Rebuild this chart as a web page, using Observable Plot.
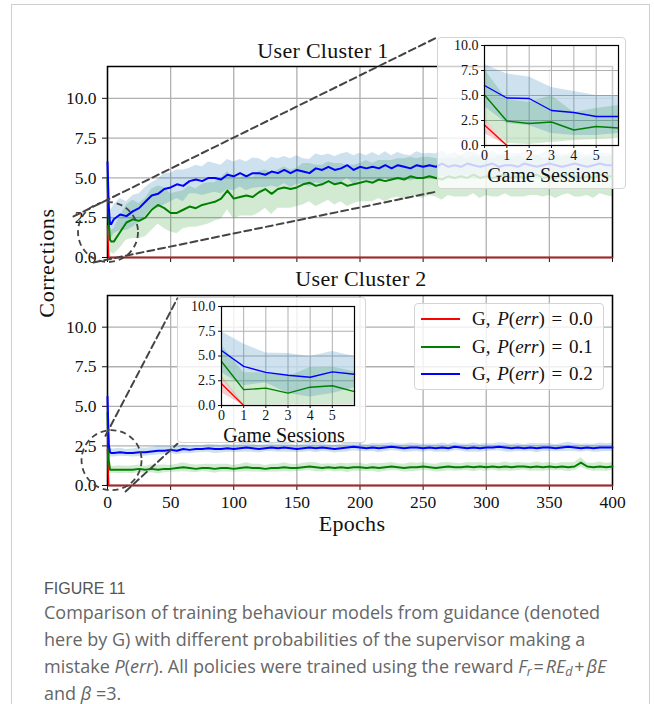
<!DOCTYPE html>
<html>
<head>
<meta charset="utf-8">
<script src="https://cdn.jsdelivr.net/npm/d3@7"></script>
<script src="https://cdn.jsdelivr.net/npm/@observablehq/plot@0.6"></script>
<style>
  html, body { margin: 0; padding: 0; background: #fff; }
  #wrap { position: relative; width: 654px; height: 704px; overflow: hidden; font-family: "Liberation Serif", serif; color: #111; }
  .frame { position: absolute; left: 11px; top: 4px; width: 639px; height: 760px; border: 1px solid #cfcfcf; box-sizing: border-box; }
  .box { position: absolute; background: rgba(255,255,255,0.8); border: 1.5px solid #d4d4d4; border-radius: 4px; box-sizing: border-box; }
  .lbl { position: absolute; white-space: nowrap; font-family: "Liberation Serif", serif; color: #111; line-height: 1; }
  .leg-item { position: absolute; left: 0; width: 190px; height: 20px; }
  .leg-line { position: absolute; left: 6px; width: 39px; height: 2px; top: 9px; }
  .leg-text { position: absolute; left: 57px; top: 0px; font-size: 19px; line-height: 19px; white-space: nowrap; word-spacing: 2px; }
  .cap-head { position: absolute; left: 44px; top: 581px; font-family: "Liberation Sans Narrow", "Liberation Sans", sans-serif; font-size: 16px; line-height: 16px; color: #555; }
  .cap { position: absolute; left: 44px; top: 599px; width: 610px; font-family: "Open Sans", sans-serif; font-size: 18px; line-height: 27px; color: #666; white-space: nowrap; }
  .cap sub { font-size: 0.7em; line-height: 0; vertical-align: -0.25em; }
</style>
</head>
<body>
<div id="wrap"></div>
<script>
// ---------------- data ----------------
const EPOCHS = [0, 1, 2, 3].concat(d3.range(5, 401, 5)); // 84 epochs
const X_TICKS = [0, 50, 100, 150, 200, 250, 300, 350, 400];
const Y_TICKS = [0, 2.5, 5, 7.5, 10];
const SESSIONS = [0, 1, 2, 3, 4, 5, 6];
const S_TICKS = [0, 1, 2, 3, 4, 5];
const LEGEND_P = ["0.0", "0.1", "0.2"];
const SERIES_KEYS = ["red", "green", "blue"];
const LINE_COLORS = {red: "#ff0000", green: "#008000", blue: "#0000ff"};
const BAND_COLORS = {red: "#d62728", green: "#2ca02c", blue: "#1f77b4"};

// User Cluster 1 (main)
const TOP_BLUE = [
  6.0, 3.2, 2.1, 2.1, 2.4, 2.7, 2.6, 2.9, 3.1, 3.5,
  3.9, 4.0, 4.3, 4.4, 4.6, 4.5, 4.8, 4.9, 4.8, 5.0,
  5.0, 4.9, 5.2, 5.1, 5.3, 5.1, 5.3, 5.3, 5.2, 5.4,
  5.3, 5.5, 5.3, 5.5, 5.4, 5.3, 5.6, 5.5, 5.7, 5.5,
  5.6, 5.8, 5.5, 5.7, 5.6, 5.7, 5.6, 5.8, 5.6, 5.8,
  5.7, 5.6, 5.8, 5.7, 5.8, 5.7, 5.9, 5.7, 5.8, 5.7,
  5.9, 5.8, 5.7, 5.8, 5.9, 5.7, 5.8, 5.8, 5.7, 5.9,
  5.8, 5.7, 5.8, 5.9, 5.8, 5.7, 5.8, 5.9, 5.8, 5.7,
  5.8, 5.9, 5.8, 5.8];
const TOP_BLUE_SD = [
  2.0, 1.3, 1.0, 0.9, 0.9, 1.0, 0.9, 1.0, 0.9, 0.9,
  0.8, 0.9, 1.0, 0.9, 0.9, 1.0, 0.8, 0.9, 0.9, 1.0,
  0.9, 0.9, 0.95, 0.9, 0.85, 0.9, 0.95, 0.9, 0.8, 0.9,
  0.9, 0.85, 0.9, 0.9, 0.8, 0.85, 0.9, 0.9, 0.8, 0.85,
  0.9, 0.8, 0.9, 0.85, 0.8, 0.9, 0.8, 0.85, 0.8, 0.8,
  0.75, 0.8, 0.85, 0.8, 0.75, 0.8, 0.8, 0.75, 0.8, 0.7,
  0.75, 0.8, 0.75, 0.7, 0.8, 0.75, 0.7, 0.75, 0.8, 0.7,
  0.75, 0.7, 0.75, 0.8, 0.7, 0.75, 0.7, 0.8, 0.75, 0.7,
  0.75, 0.7, 0.75, 0.7];
const TOP_GREEN = [
  5.0, 2.2, 1.1, 1.0, 1.0, 1.6, 2.2, 2.4, 2.3, 2.5,
  3.0, 3.3, 3.1, 2.8, 2.8, 3.0, 3.2, 3.1, 3.3, 3.4,
  3.5, 3.7, 4.2, 3.7, 3.8, 3.9, 3.8, 4.1, 4.3, 4.0,
  4.3, 4.4, 4.3, 4.4, 4.6, 4.7, 4.5, 4.6, 4.8, 4.6,
  4.7, 4.5, 4.6, 4.7, 4.8, 4.7, 4.9, 4.8, 4.9, 5.0,
  4.9, 5.1, 5.0, 5.0, 5.1, 5.0, 4.9, 5.1, 5.0, 5.1,
  5.0, 5.2, 5.0, 5.1, 5.0, 5.1, 5.2, 5.0, 5.1, 5.0,
  5.1, 5.2, 5.0, 5.1, 5.0, 5.1, 5.2, 5.1, 5.0, 5.1,
  5.0, 5.2, 5.1, 5.1];
const TOP_GREEN_SD = [
  2.4, 1.0, 0.7, 0.7, 0.8, 1.0, 1.1, 1.2, 1.1, 1.2,
  1.3, 1.2, 1.3, 1.2, 1.3, 1.2, 1.3, 1.2, 1.3, 1.3,
  1.2, 1.3, 1.2, 1.3, 1.2, 1.3, 1.2, 1.3, 1.2, 1.3,
  1.2, 1.3, 1.2, 1.2, 1.3, 1.2, 1.3, 1.2, 1.2, 1.3,
  1.2, 1.3, 1.2, 1.2, 1.3, 1.2, 1.2, 1.3, 1.2, 1.2,
  1.3, 1.2, 1.2, 1.3, 1.2, 1.2, 1.3, 1.2, 1.2, 1.3,
  1.2, 1.2, 1.3, 1.2, 1.2, 1.3, 1.2, 1.2, 1.3, 1.2,
  1.2, 1.3, 1.2, 1.2, 1.3, 1.2, 1.2, 1.3, 1.2, 1.2,
  1.3, 1.2, 1.2, 1.3];
const TOP_RED_EPOCHS = [0, 1, 400];
const TOP_RED = [2.0, 0, 0];
const TOP_RED_SD = [0.7, 0, 0];

// User Cluster 2 (main)
const BOT_BLUE = [
  5.6, 2.6, 2.1, 2.05, 2.05, 2.1, 2.05, 2.05, 2.1, 2.1,
  2.15, 2.2, 2.2, 2.25, 2.2, 2.3, 2.25, 2.3, 2.3, 2.35,
  2.3, 2.3, 2.35, 2.3, 2.35, 2.4, 2.35, 2.3, 2.35, 2.4,
  2.35, 2.4, 2.35, 2.3, 2.35, 2.4, 2.35, 2.4, 2.35, 2.3,
  2.35, 2.4, 2.45, 2.4, 2.35, 2.4, 2.35, 2.4, 2.45, 2.4,
  2.35, 2.4, 2.4, 2.35, 2.4, 2.35, 2.4, 2.35, 2.45, 2.4,
  2.35, 2.4, 2.35, 2.4, 2.4, 2.45, 2.4, 2.35, 2.4, 2.35,
  2.4, 2.35, 2.4, 2.4, 2.35, 2.4, 2.45, 2.4, 2.35, 2.4,
  2.35, 2.4, 2.4, 2.4];
const BOT_BLUE_SD = [
  1.6, 0.5, 0.3, 0.25, 0.25, 0.25, 0.22, 0.25, 0.28, 0.25,
  0.25, 0.28, 0.25, 0.22, 0.25, 0.28, 0.25, 0.25, 0.22, 0.25,
  0.28, 0.25, 0.25, 0.22, 0.25, 0.28, 0.25, 0.25, 0.22, 0.25,
  0.25, 0.28, 0.25, 0.22, 0.25, 0.25, 0.28, 0.25, 0.22, 0.25,
  0.25, 0.28, 0.25, 0.25, 0.22, 0.25, 0.28, 0.25, 0.25, 0.22,
  0.25, 0.28, 0.25, 0.25, 0.22, 0.25, 0.28, 0.25, 0.25, 0.22,
  0.25, 0.28, 0.25, 0.25, 0.22, 0.25, 0.28, 0.25, 0.25, 0.22,
  0.25, 0.28, 0.25, 0.25, 0.22, 0.25, 0.28, 0.25, 0.25, 0.22,
  0.25, 0.28, 0.25, 0.25];
const BOT_GREEN = [
  4.6, 1.6, 1.0, 1.0, 1.0, 1.0, 1.0, 1.0, 1.05, 1.0,
  1.05, 1.0, 1.05, 1.05, 1.1, 1.15, 1.1, 1.05, 1.1, 1.1,
  1.05, 1.1, 1.1, 1.05, 1.1, 1.15, 1.1, 1.1, 1.05, 1.1,
  1.1, 1.15, 1.1, 1.1, 1.15, 1.2, 1.15, 1.1, 1.15, 1.1,
  1.15, 1.1, 1.15, 1.15, 1.1, 1.15, 1.1, 1.15, 1.2, 1.15,
  1.1, 1.15, 1.15, 1.2, 1.15, 1.1, 1.15, 1.2, 1.15, 1.15,
  1.2, 1.15, 1.2, 1.15, 1.2, 1.15, 1.2, 1.15, 1.2, 1.2,
  1.15, 1.2, 1.15, 1.2, 1.15, 1.2, 1.15, 1.2, 1.45, 1.2,
  1.15, 1.2, 1.15, 1.2];
const BOT_GREEN_SD = [
  2.0, 0.5, 0.25, 0.22, 0.22, 0.25, 0.22, 0.25, 0.25, 0.22,
  0.25, 0.28, 0.25, 0.22, 0.25, 0.28, 0.25, 0.25, 0.22, 0.25,
  0.28, 0.25, 0.25, 0.22, 0.25, 0.28, 0.25, 0.25, 0.22, 0.25,
  0.25, 0.28, 0.25, 0.22, 0.25, 0.25, 0.28, 0.25, 0.22, 0.25,
  0.25, 0.28, 0.25, 0.25, 0.22, 0.25, 0.28, 0.25, 0.25, 0.22,
  0.25, 0.28, 0.25, 0.25, 0.22, 0.25, 0.28, 0.25, 0.25, 0.22,
  0.25, 0.28, 0.25, 0.25, 0.22, 0.25, 0.28, 0.25, 0.25, 0.22,
  0.25, 0.28, 0.25, 0.25, 0.22, 0.25, 0.28, 0.25, 0.3, 0.22,
  0.25, 0.28, 0.25, 0.25];
const BOT_RED_EPOCHS = [0, 1, 400];
const BOT_RED = [2.3, 0, 0];
const BOT_RED_SD = [0.8, 0, 0];

// Inset, User Cluster 1 (game sessions)
const IN1_BLUE = [6.0, 4.75, 4.7, 3.5, 3.3, 2.9, 2.9];
const IN1_BLUE_LO = [3.9, 2.2, 2.0, 1.2, 1.0, 1.0, 1.2];
const IN1_BLUE_HI = [8.1, 7.15, 6.85, 5.8, 5.4, 5.0, 5.0];
const IN1_GREEN = [5.05, 2.45, 2.2, 2.35, 1.55, 1.9, 1.75];
const IN1_GREEN_LO = [2.6, 0.2, 0.1, 0.3, 0.5, 0.6, 0.7];
const IN1_GREEN_HI = [7.6, 4.6, 4.3, 5.0, 3.3, 3.7, 4.0];
const IN1_RED_SESSIONS = [0, 1];
const IN1_RED = [2.05, 0];
const IN1_RED_LO = [1.2, 0];
const IN1_RED_HI = [2.7, 0.1];

// Inset, User Cluster 2 (game sessions)
const IN2_BLUE = [5.55, 3.95, 3.35, 3.05, 2.85, 3.4, 3.15];
const IN2_BLUE_LO = [3.3, 2.0, 2.3, 1.2, 0.85, 1.2, 1.8];
const IN2_BLUE_HI = [7.45, 6.2, 5.3, 5.25, 4.95, 5.45, 4.95];
const IN2_GREEN = [4.45, 1.6, 1.75, 1.25, 1.85, 2.0, 1.4];
const IN2_GREEN_LO = [2.8, 0.05, 0.05, 0.1, 0.1, 0.1, 0.1];
const IN2_GREEN_HI = [6.1, 3.3, 3.3, 2.9, 3.85, 3.9, 3.4];
const IN2_RED_SESSIONS = [0, 1];
const IN2_RED = [2.2, 0];
const IN2_RED_LO = [1.3, 0];
const IN2_RED_HI = [3.0, 0.1];

// zoom markers (data units of the main axes: epochs, corrections)
const TOP_CIRCLE = {x: 0.4, y: 1.6};
const TOP_CONNECTORS = [
  [{x: -26.9, y: 2.58}, {x: 261.4, y: 13.84}],
  [{x: -11.1, y: -0.31}, {x: 261.4, y: 4.15}]
];
const BOT_CIRCLE = {x: 3.2, y: 1.6};
const BOT_CONNECTORS = [
  [{x: -1.6, y: 3.14}, {x: 55.4, y: 11.82}],
  [{x: 14.3, y: -0.38}, {x: 55.4, y: 2.64}]
];

// ---------------- helpers ----------------
const withSd = (xs, m, s) => xs.map((x, i) => ({x, m: m[i], lo: m[i] - s[i], hi: m[i] + s[i]}));
const withLH = (xs, m, lo, hi) => xs.map((x, i) => ({x, m: m[i], lo: lo[i], hi: hi[i]}));
const fmt1 = d3.format(".1f");
const wrapEl = document.getElementById("wrap");

function place(el, left, topPx) {
  el.style.position = "absolute";
  el.style.left = left + "px";
  el.style.top = topPx + "px";
  el.style.background = "transparent";
  el.style.maxWidth = "none";
  wrapEl.appendChild(el);
}

function mainPlot(o) {
  const marks = [
    Plot.ruleX(X_TICKS, {stroke: "#b0b0b0", strokeWidth: 1.3}),
    Plot.ruleY(Y_TICKS, {stroke: "#b0b0b0", strokeWidth: 1.3}),
    ...SERIES_KEYS.map(k => Plot.areaY(o.series[k], {x: "x", y1: "lo", y2: "hi", fill: BAND_COLORS[k], fillOpacity: 0.22, clip: true})),
    Plot.frame({stroke: "#000", strokeWidth: 1.5}),
    ...SERIES_KEYS.map(k => Plot.line(o.series[k], {x: "x", y: "m", stroke: LINE_COLORS[k], strokeWidth: k === "red" ? 1.5 : 2})),
    Plot.dot([o.circle], {x: "x", y: "y", r: 30, stroke: "#444", strokeWidth: 1.8, strokeDasharray: "6,4", fill: "none"}),
    ...o.connectors.map(c => Plot.line(c, {x: "x", y: "y", stroke: "#444", strokeWidth: 2, strokeDasharray: "7,4"}))
  ];
  return Plot.plot({
    width: 654, height: o.height,
    marginLeft: 107, marginRight: 42, marginTop: o.mt, marginBottom: o.mb,
    style: {fontFamily: "Liberation Serif, serif", fontSize: "17.5px", background: "transparent", overflow: "visible", color: "#111"},
    x: {domain: [0, 400], ticks: X_TICKS, tickFormat: o.showX ? (d => String(d)) : (() => ""), tickSize: 5, tickPadding: 5, label: null},
    y: {domain: [0, 12], ticks: Y_TICKS, tickFormat: fmt1, tickSize: 5, tickPadding: 6, label: null},
    marks
  });
}

function insetPlot(o) {
  const marks = [
    Plot.ruleX(S_TICKS, {stroke: "#b0b0b0", strokeWidth: 1}),
    Plot.ruleY(Y_TICKS, {stroke: "#b0b0b0", strokeWidth: 1}),
    ...SERIES_KEYS.map(k => Plot.areaY(o.series[k], {x: "x", y1: "lo", y2: "hi", fill: BAND_COLORS[k], fillOpacity: 0.22})),
    ...SERIES_KEYS.map(k => Plot.line(o.series[k], {x: "x", y: "m", stroke: LINE_COLORS[k], strokeWidth: 1.4})),
    Plot.frame({stroke: "#000", strokeWidth: 1.2})
  ];
  return Plot.plot({
    width: o.width, height: o.height,
    marginLeft: o.ml, marginRight: o.mr, marginTop: o.mt, marginBottom: o.mb,
    style: {fontFamily: "Liberation Serif, serif", fontSize: "14px", background: "transparent", overflow: "visible", color: "#111"},
    x: {domain: [0, 6], ticks: S_TICKS, tickFormat: d => String(d), tickSize: 3, tickPadding: 2, label: null},
    y: {domain: [0, 10], ticks: Y_TICKS, tickFormat: fmt1, tickSize: 3, tickPadding: 3, label: null},
    marks
  });
}

function addLabel(text, cx, topPx, size, spacing) {
  const d = document.createElement("div");
  d.className = "lbl";
  d.style.fontSize = size + "px";
  if (spacing) d.style.letterSpacing = spacing + "px";
  d.innerHTML = text;
  wrapEl.appendChild(d);
  const w = d.getBoundingClientRect().width;
  d.style.left = (cx - w / 2) + "px";
  d.style.top = topPx + "px";
  return d;
}

function addBox(left, topPx, w, h) {
  const b = document.createElement("div");
  b.className = "box";
  Object.assign(b.style, {left: left + "px", top: topPx + "px", width: w + "px", height: h + "px"});
  wrapEl.appendChild(b);
  return b;
}

// ---------------- build ----------------
const frameDiv = document.createElement("div");
frameDiv.className = "frame";
wrapEl.appendChild(frameDiv);

const topPlot = mainPlot({
  height: 280, mt: 66, mb: 23, showX: false,
  series: {
    red: withSd(TOP_RED_EPOCHS, TOP_RED, TOP_RED_SD),
    green: withSd(EPOCHS, TOP_GREEN, TOP_GREEN_SD),
    blue: withSd(EPOCHS, TOP_BLUE, TOP_BLUE_SD)
  },
  circle: TOP_CIRCLE, connectors: TOP_CONNECTORS
});
place(topPlot, 0, 0);

const botPlot = mainPlot({
  height: 290, mt: 45, mb: 55, showX: true,
  series: {
    red: withSd(BOT_RED_EPOCHS, BOT_RED, BOT_RED_SD),
    green: withSd(EPOCHS, BOT_GREEN, BOT_GREEN_SD),
    blue: withSd(EPOCHS, BOT_BLUE, BOT_BLUE_SD)
  },
  circle: BOT_CIRCLE, connectors: BOT_CONNECTORS
});
place(botPlot, 0, 250);

// titles and axis labels
addLabel("User Cluster 1", 323, 40, 22, 0.3);
addLabel("User Cluster 2", 361, 268, 22, 0.3);
addLabel("Epochs", 352, 513, 22, 0.3);
const yl = addLabel("Corrections", 46.5, 252, 22, 0.6);
yl.style.transformOrigin = "center center";
yl.style.transform = "rotate(-90deg)";

// inset 1
addBox(437, 37, 189, 152);
const in1 = insetPlot({
  width: 189, height: 152, ml: 47, mr: 8, mt: 8, mb: 44,
  series: {
    red: withLH(IN1_RED_SESSIONS, IN1_RED, IN1_RED_LO, IN1_RED_HI),
    green: withLH(SESSIONS, IN1_GREEN, IN1_GREEN_LO, IN1_GREEN_HI),
    blue: withLH(SESSIONS, IN1_BLUE, IN1_BLUE_LO, IN1_BLUE_HI)
  }
});
place(in1, 437, 37);
addLabel("Game Sessions", 548, 165, 20);

// inset 2
addBox(177, 297, 189, 146);
const in2 = insetPlot({
  width: 189, height: 146, ml: 44, mr: 12, mt: 9, mb: 38,
  series: {
    red: withLH(IN2_RED_SESSIONS, IN2_RED, IN2_RED_LO, IN2_RED_HI),
    green: withLH(SESSIONS, IN2_GREEN, IN2_GREEN_LO, IN2_GREEN_HI),
    blue: withLH(SESSIONS, IN2_BLUE, IN2_BLUE_LO, IN2_BLUE_HI)
  }
});
place(in2, 177, 297);
addLabel("Game Sessions", 284, 425, 20);

// legend
const leg = addBox(414, 303, 190, 87);
SERIES_KEYS.forEach((k, i) => {
  const it = document.createElement("div");
  it.className = "leg-item";
  it.style.top = (5 + i * 27.5) + "px";
  it.innerHTML = `<div class="leg-line" style="background:${LINE_COLORS[k]}"></div>` +
    `<div class="leg-text">G, <i>P</i>(<i>err</i>) = ${LEGEND_P[i]}</div>`;
  leg.appendChild(it);
});

// caption
const head = document.createElement("div");
head.className = "cap-head";
head.textContent = "FIGURE 11";
wrapEl.appendChild(head);
const cap = document.createElement("div");
cap.className = "cap";
cap.innerHTML = "Comparison of training behaviour models from guidance (denoted<br>" +
  "here by G) with different probabilities of the supervisor making a<br>" +
  "mistake <i>P</i>(<i>err</i>). All policies were trained using the reward <i>F<sub>r</sub></i>&#8202;=&#8202;<i>RE<sub>d</sub></i>&#8202;+&#8202;<i>βE</i><br>" +
  "and <i>β</i> =3.";
wrapEl.appendChild(cap);
</script>
</body>
</html>
